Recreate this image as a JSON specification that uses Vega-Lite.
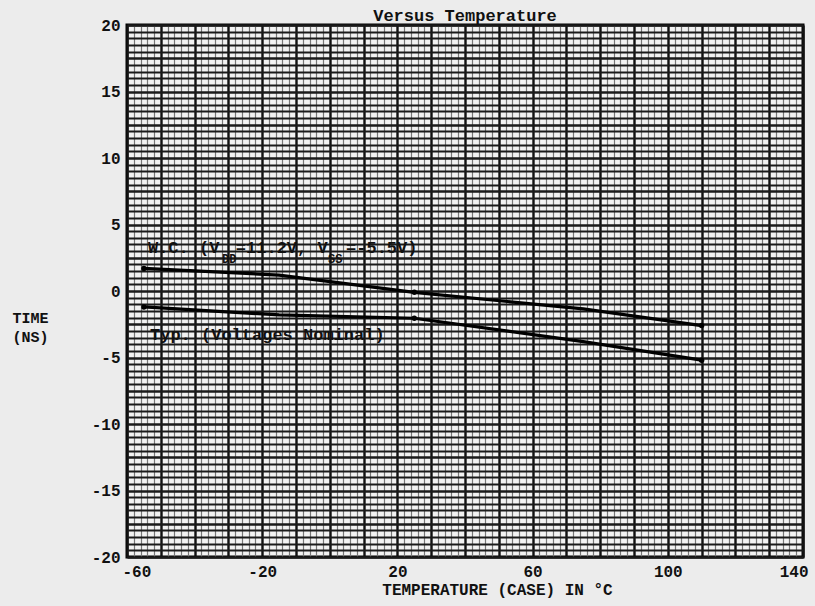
{
  "$schema": "https://vega.github.io/schema/vega-lite/v6.json",
  "width": 676,
  "height": 532,
  "autosize": {"type": "none"},
  "padding": {"left": 127, "top": 25, "right": 12, "bottom": 49},
  "background": "#ececec",
  "title": {
    "text": "Versus Temperature",
    "font": "Liberation Mono",
    "fontSize": 17,
    "fontWeight": "bold",
    "color": "#111",
    "anchor": "middle",
    "offset": -8
  },
  "config": {
    "view": {"stroke": "#000", "strokeWidth": 3, "fill": "#f2f2f2"},
    "axis": {
      "labelFont": "Liberation Mono",
      "labelFontSize": 16,
      "labelFontWeight": "bold",
      "labelColor": "#111",
      "titleFont": "Liberation Mono",
      "titleFontSize": 16,
      "titleFontWeight": "bold",
      "titleColor": "#111",
      "ticks": false,
      "domain": false,
      "labelOverlap": false,
      "labelFlush": false
    }
  },
  "datasets": {
    "curves": [
      {"temp": -55, "time": 1.7, "series": "W.C."},
      {"temp": -15, "time": 1.2, "series": "W.C."},
      {"temp": 25, "time": -0.1, "series": "W.C."},
      {"temp": 75, "time": -1.35, "series": "W.C."},
      {"temp": 110, "time": -2.6, "series": "W.C."},
      {"temp": -55, "time": -1.2, "series": "Typ."},
      {"temp": -15, "time": -1.8, "series": "Typ."},
      {"temp": 25, "time": -2.05, "series": "Typ."},
      {"temp": 75, "time": -3.8, "series": "Typ."},
      {"temp": 110, "time": -5.2, "series": "Typ."}
    ],
    "notes": [
      {"temp": -53.8, "time": 3.2, "text": "W.C. (V", "kind": "main"},
      {"temp": -31.9, "time": 2.4, "text": "DD", "kind": "sub"},
      {"temp": -27.8, "time": 3.2, "text": "=11.2V, V", "kind": "main"},
      {"temp": -0.5, "time": 2.4, "text": "SS", "kind": "sub"},
      {"temp": 4.8, "time": 3.2, "text": "=-5.5V)", "kind": "main"},
      {"temp": -53.2, "time": -3.3, "text": "Typ. (Voltages Nominal)", "kind": "main"}
    ]
  },
  "encoding": {
    "x": {
      "field": "temp",
      "type": "quantitative",
      "scale": {"domain": [-60, 140], "nice": false, "zero": false},
      "axis": {
        "title": "TEMPERATURE  (CASE)  IN °C",
        "titleX": 370,
        "titleY": 24,
        "labelPadding": 6,
        "labelFlush": true,
        "labelFlushOffset": 5,
        "values": [-60,-58,-56,-54,-52,-50,-48,-46,-44,-42,-40,-38,-36,-34,-32,-30,-28,-26,-24,-22,-20,-18,-16,-14,-12,-10,-8,-6,-4,-2,0,2,4,6,8,10,12,14,16,18,20,22,24,26,28,30,32,34,36,38,40,42,44,46,48,50,52,54,56,58,60,62,64,66,68,70,72,74,76,78,80,82,84,86,88,90,92,94,96,98,100,102,104,106,108,110,112,114,116,118,120,122,124,126,128,130,132,134,136,138,140],
        "labelExpr": "(datum.value + 60) % 40 === 0 ? '' + datum.value : ''",
        "grid": true,
        "gridColor": {"condition": {"test": "datum.value % 10 === 0", "value": "#111"}, "value": "#777"},
        "gridWidth": {"condition": {"test": "datum.value % 10 === 0", "value": 2.4}, "value": 1.2},
        "gridOpacity": 1
      }
    },
    "y": {
      "field": "time",
      "type": "quantitative",
      "scale": {"domain": [-20, 20], "nice": false, "zero": false},
      "axis": {
        "title": ["TIME", "(NS)"],
        "titleAngle": 0,
        "titleAlign": "left",
        "titleBaseline": "top",
        "titleX": -115,
        "titleY": 285,
        "titleLineHeight": 19,
        "titleFontSize": 15,
        "labelPadding": 7,
        "values": [-20,-19.5,-19,-18.5,-18,-17.5,-17,-16.5,-16,-15.5,-15,-14.5,-14,-13.5,-13,-12.5,-12,-11.5,-11,-10.5,-10,-9.5,-9,-8.5,-8,-7.5,-7,-6.5,-6,-5.5,-5,-4.5,-4,-3.5,-3,-2.5,-2,-1.5,-1,-0.5,0,0.5,1,1.5,2,2.5,3,3.5,4,4.5,5,5.5,6,6.5,7,7.5,8,8.5,9,9.5,10,10.5,11,11.5,12,12.5,13,13.5,14,14.5,15,15.5,16,16.5,17,17.5,18,18.5,19,19.5,20],
        "labelExpr": "datum.value % 5 === 0 ? '' + datum.value : ''",
        "grid": true,
        "gridColor": "#1a1a1a",
        "gridWidth": {"condition": {"test": "datum.value % 2.5 === 0", "value": 2.4}, "value": 1.8},
        "gridOpacity": 1
      }
    }
  },
  "layer": [
    {
      "data": {"name": "curves"},
      "mark": {"type": "line", "color": "#000", "strokeWidth": 3.2},
      "encoding": {"detail": {"field": "series"}}
    },
    {
      "data": {"name": "curves"},
      "transform": [{"filter": "datum.temp == -55 || datum.temp == 25 || datum.temp == 110"}],
      "mark": {"type": "point", "filled": true, "color": "#000", "size": 30, "opacity": 1}
    },
    {
      "data": {"name": "notes"},
      "transform": [{"filter": "datum.kind == 'main'"}],
      "mark": {"type": "text", "align": "left", "baseline": "middle", "font": "Liberation Mono", "fontSize": 17, "fontWeight": "bold", "color": "#111"},
      "encoding": {"text": {"field": "text"}}
    },
    {
      "data": {"name": "notes"},
      "transform": [{"filter": "datum.kind == 'sub'"}],
      "mark": {"type": "text", "align": "left", "baseline": "middle", "font": "Liberation Mono", "fontSize": 12, "fontWeight": "bold", "color": "#111"},
      "encoding": {"text": {"field": "text"}}
    }
  ]
}
